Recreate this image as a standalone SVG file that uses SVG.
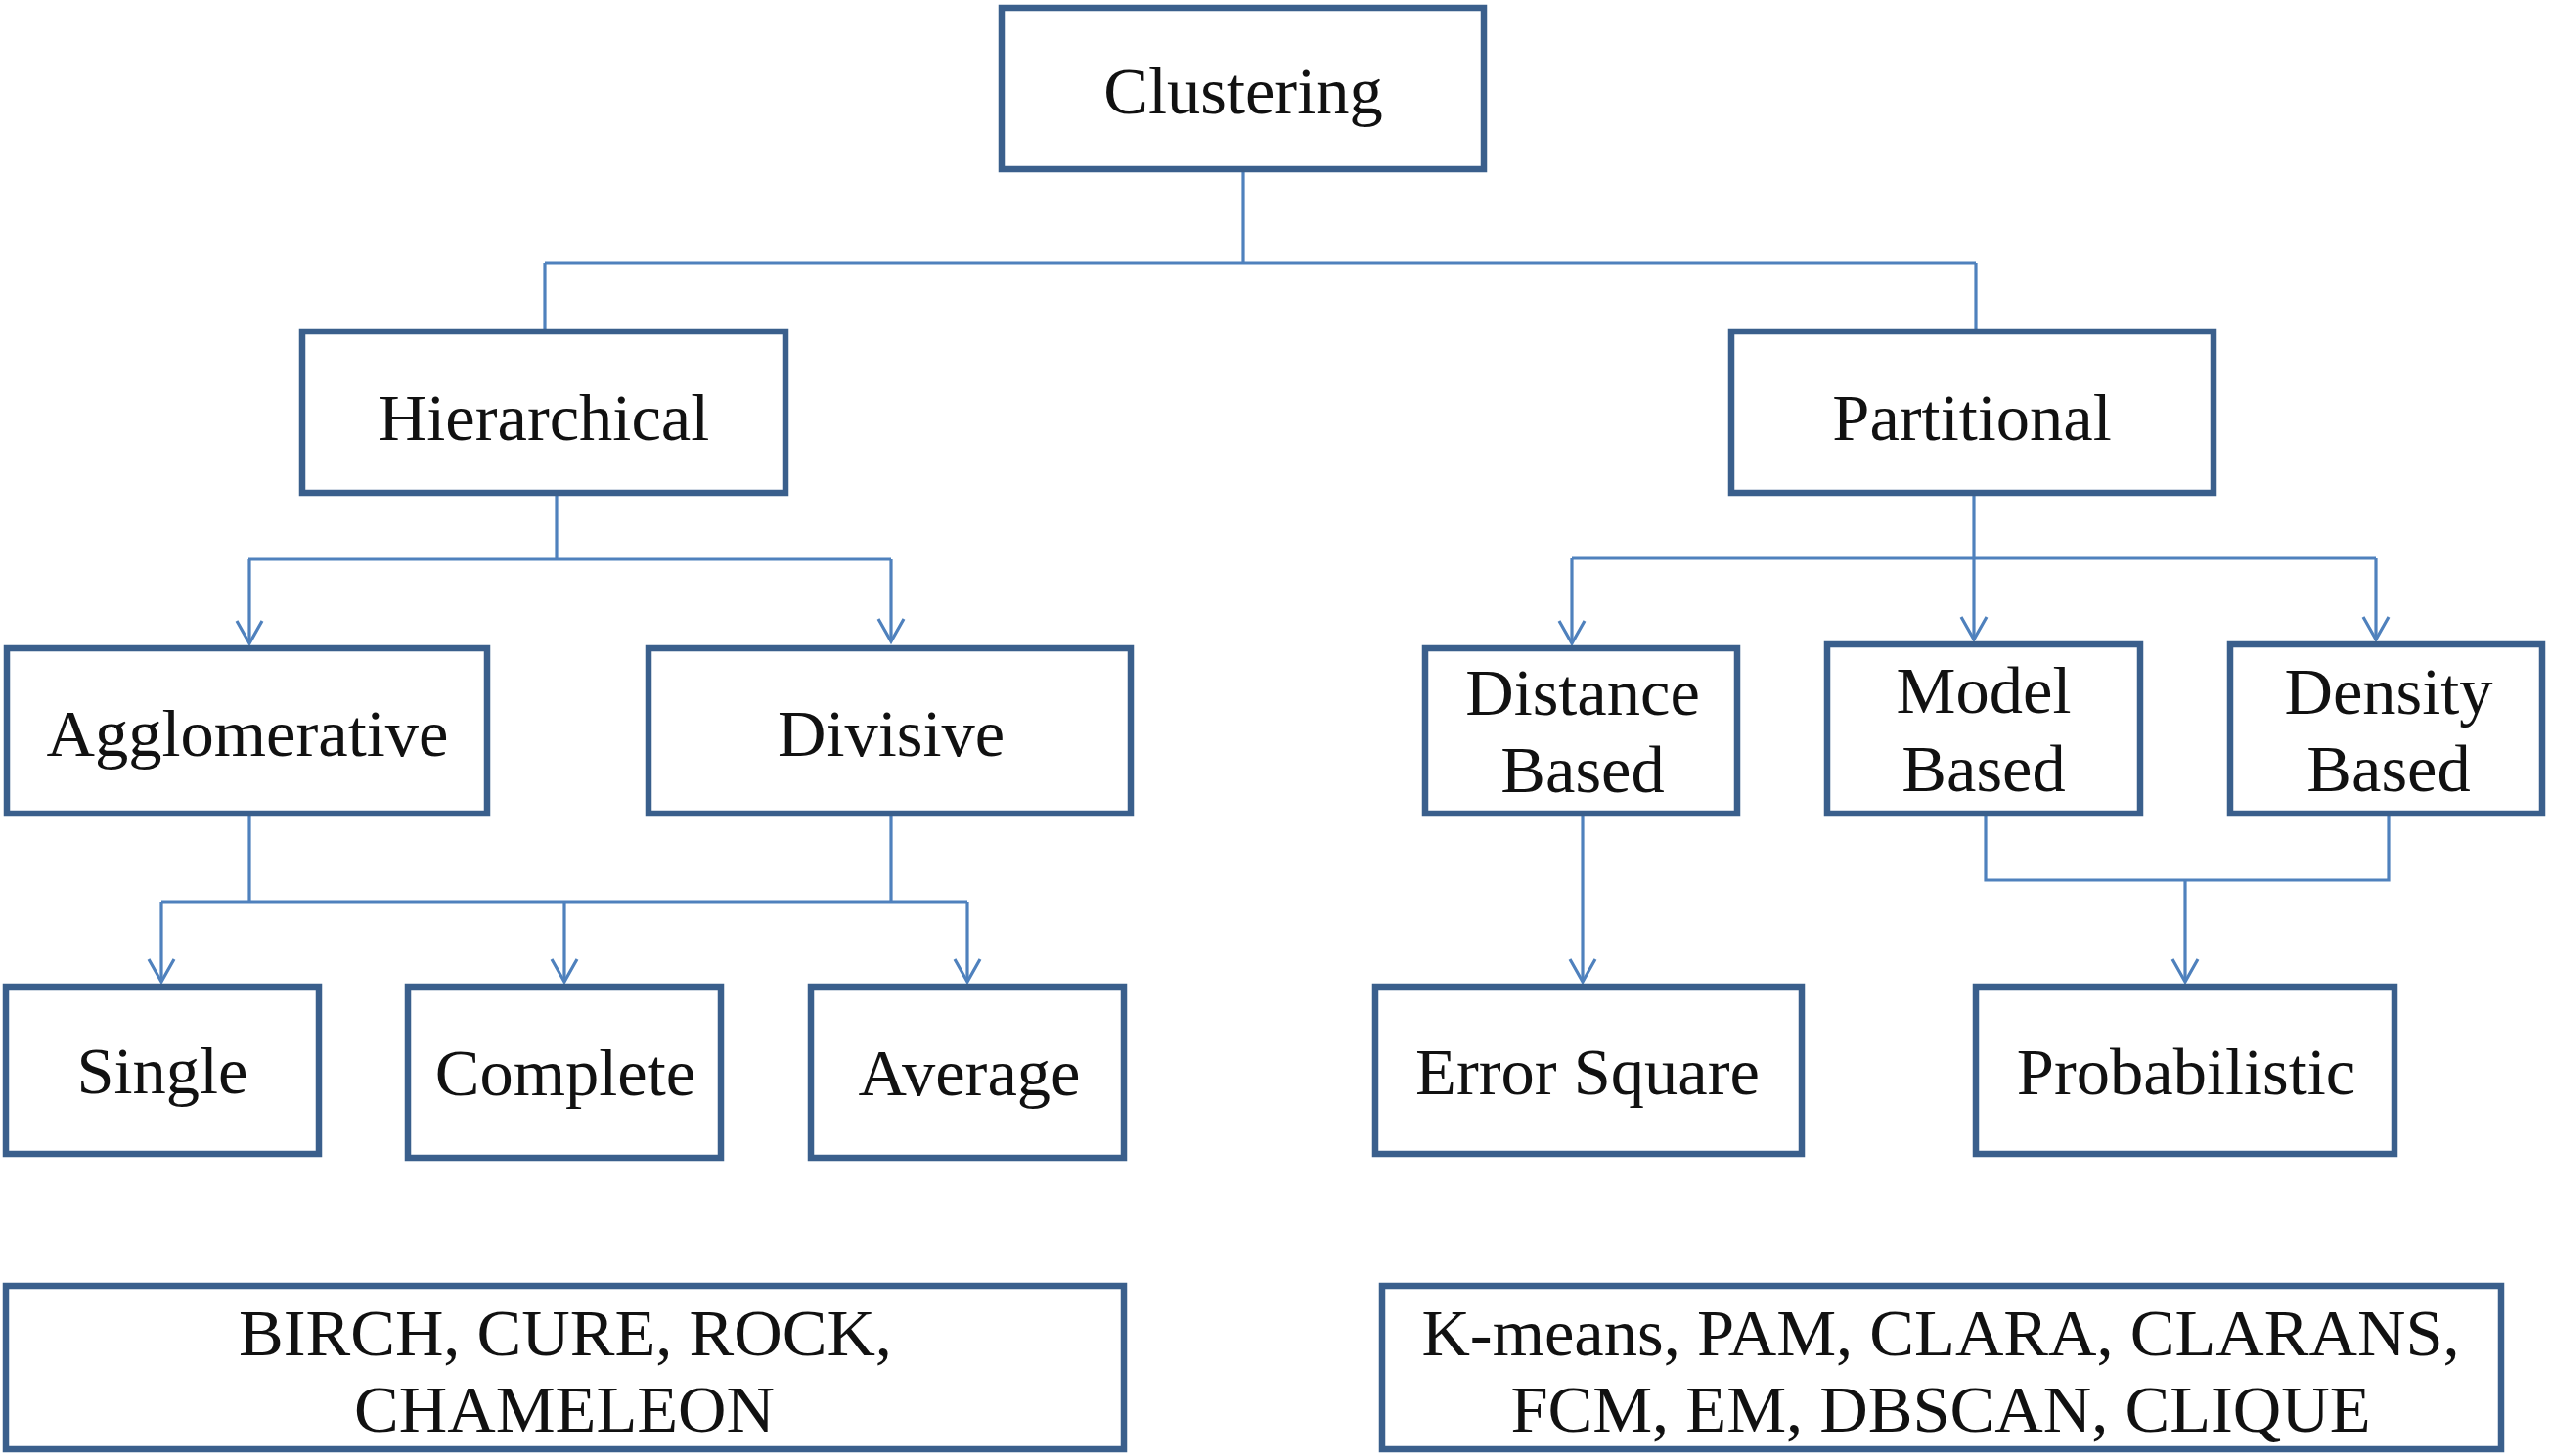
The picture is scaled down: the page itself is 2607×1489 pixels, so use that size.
<svg xmlns="http://www.w3.org/2000/svg" width="2607" height="1489" viewBox="0 0 2607 1489">
<style>
.box{fill:#fff;stroke:#3a5f8c;stroke-width:6.5}
.t{font-family:"Liberation Serif","Times New Roman",serif;font-size:68.5px;fill:#111;text-anchor:middle}
.c{fill:none;stroke:#4f81bd;stroke-width:3.2}
</style>
<defs>
<marker id="arr" markerUnits="userSpaceOnUse" viewBox="-2 -16 28 32" markerWidth="28" markerHeight="32" refX="23" refY="0" orient="auto" overflow="visible">
<path d="M0,-13 L23,0 L0,13" fill="none" stroke="#4f81bd" stroke-width="3.2"/>
</marker>
</defs>
<rect width="2607" height="1489" fill="#fff"/>
<g id="connectors">
<path class="c" d="M1271,176 V269 M557,269 H2020 M557,269 V336 M2020,269 V336"/>
<path class="c" d="M569,507 V572 M254,572 H911"/>
<path class="c" d="M255,572 V658" marker-end="url(#arr)"/>
<path class="c" d="M911,572 V656" marker-end="url(#arr)"/>
<path class="c" d="M255,835 V922 M911,835 V922 M165,922 H989"/>
<path class="c" d="M165,922 V1004" marker-end="url(#arr)"/>
<path class="c" d="M577,922 V1004" marker-end="url(#arr)"/>
<path class="c" d="M989,922 V1004" marker-end="url(#arr)"/>
<path class="c" d="M1607,571 H2429"/>
<path class="c" d="M2018,507 V654" marker-end="url(#arr)"/>
<path class="c" d="M1607,571 V658" marker-end="url(#arr)"/>
<path class="c" d="M2429,571 V654" marker-end="url(#arr)"/>
<path class="c" d="M1618,835 V1004" marker-end="url(#arr)"/>
<path class="c" d="M2030,835 V900 H2442 V835"/>
<path class="c" d="M2234,900 V1004" marker-end="url(#arr)"/>
</g>
<g id="clustering"><rect class="box" x="1024" y="8" width="493" height="165"/><text class="t" x="1271" y="116">Clustering</text></g>
<g id="hierarchical"><rect class="box" x="309" y="339" width="494" height="165"/><text class="t" x="556" y="450">Hierarchical</text></g>
<g id="partitional"><rect class="box" x="1770" y="339" width="493" height="165"/><text class="t" x="2016" y="450">Partitional</text></g>
<g id="agglomerative"><rect class="box" x="7" y="663" width="491" height="169"/><text class="t" x="253" y="773">Agglomerative</text></g>
<g id="divisive"><rect class="box" x="663" y="663" width="493" height="169"/><text class="t" x="911" y="773">Divisive</text></g>
<g id="distance"><rect class="box" x="1457" y="663" width="319" height="169"/><text class="t" x="1618" y="731">Distance</text><text class="t" x="1618" y="810">Based</text></g>
<g id="model"><rect class="box" x="1868" y="659" width="320" height="173"/><text class="t" x="2028" y="729">Model</text><text class="t" x="2028" y="809">Based</text></g>
<g id="density"><rect class="box" x="2280" y="659" width="319" height="173"/><text class="t" x="2442" y="730">Density</text><text class="t" x="2442" y="809">Based</text></g>
<g id="single"><rect class="box" x="6" y="1009" width="320" height="171"/><text class="t" x="166" y="1118">Single</text></g>
<g id="complete"><rect class="box" x="417" y="1009" width="320" height="175"/><text class="t" x="578" y="1120">Complete</text></g>
<g id="average"><rect class="box" x="829" y="1009" width="320" height="175"/><text class="t" x="991" y="1120">Average</text></g>
<g id="errorsquare"><rect class="box" x="1406" y="1009" width="436" height="171"/><text class="t" x="1623" y="1119">Error Square</text></g>
<g id="probabilistic"><rect class="box" x="2020" y="1009" width="428" height="171"/><text class="t" x="2235" y="1119">Probabilistic</text></g>
<g id="hier-examples"><rect class="box" x="6" y="1315" width="1143" height="167"/><text class="t" x="578" y="1386">BIRCH, CURE, ROCK,</text><text class="t" x="577" y="1464">CHAMELEON</text></g>
<g id="part-examples"><rect class="box" x="1413" y="1315" width="1144" height="167"/><text class="t" x="1984" y="1386">K-means, PAM, CLARA, CLARANS,</text><text class="t" x="1984" y="1464">FCM, EM, DBSCAN, CLIQUE</text></g>
</svg>
